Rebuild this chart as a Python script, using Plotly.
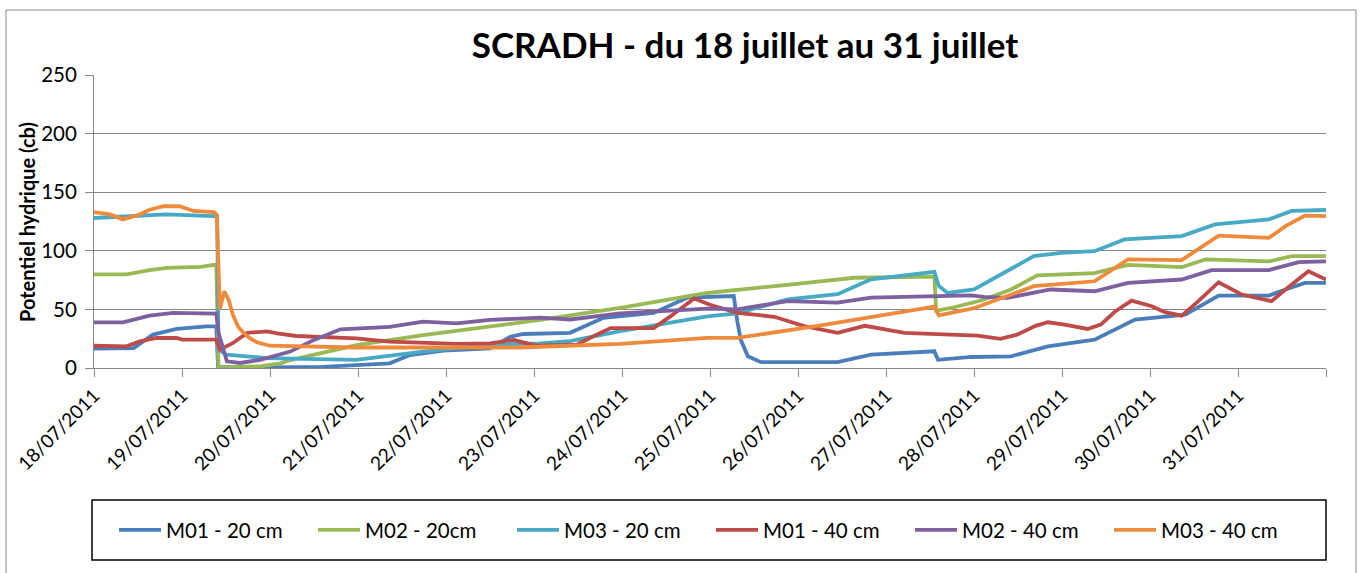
import pandas as pd
import plotly.graph_objects as go

START = pd.Timestamp("2011-07-18")

# x positions are days elapsed since 18/07/2011 00:00
m01_20_day = [0, 0.45, 0.67, 0.94, 1.28, 1.39, 1.41, 2.0, 2.6, 3.36, 3.59, 3.97, 4.5, 4.73, 4.88, 5.07,
              5.41, 5.79, 6.36, 6.74, 7.27, 7.31, 7.35, 7.43, 7.58, 8.45, 8.83, 9.55, 9.59, 9.97,
              10.42, 10.84, 11.37, 11.83, 12.4, 12.78, 13.35, 13.54, 13.76, 14.0]
m01_20_val = [16.5, 17, 28.5, 33.3, 35.6, 35.6, 1, 0.5, 1, 4, 11, 14.8, 16.8, 26.7, 29, 29.6,
              30, 42.8, 47, 60, 61.4, 40, 24, 10, 5, 5, 11.4, 14.3, 7, 9.4,
              10, 18.5, 24.2, 41.3, 45.6, 61.8, 61.8, 67, 72.6, 72.6]

m02_20_day = [0, 0.37, 0.63, 0.83, 1.21, 1.39, 1.415, 1.5, 1.9, 2.12, 2.23, 2.98, 3.74, 4.5, 5.07,
              5.98, 6.97, 7.88, 8.64, 9.55, 9.57, 9.73, 10.1, 10.42, 10.72, 11.37, 11.75, 12.36,
              12.63, 13.35, 13.61, 14.0]
m02_20_val = [79.8, 79.8, 83.5, 85.5, 86.3, 88.3, 0, 0.5, 1.5, 4, 6.8, 19.6, 28, 35, 41,
              51.4, 64, 71, 77, 78, 49, 51, 58, 67, 79, 81, 88, 86,
              92.6, 91, 95.4, 95.4]

m03_20_day = [0, 0.82, 1.36, 1.40, 1.415, 1.5, 1.96, 2.98, 3.74, 4.5, 5.07, 5.41, 5.98, 6.97, 7.31,
              7.88, 8.45, 8.83, 9.55, 9.6, 9.7, 10.0, 10.68, 10.99, 11.37, 11.71, 12.36, 12.74,
              13.35, 13.61, 14.0]
m03_20_val = [128, 131, 129.6, 129, 16, 11.4, 8.5, 7, 14, 20, 21, 23, 31.4, 44, 46.6,
              58.6, 63, 75.7, 82, 70, 64, 67, 95.4, 98.3, 99.7, 109.7, 112.5, 122.5,
              126.8, 134, 134.8]

m01_40_day = [0, 0.37, 0.52, 0.71, 0.94, 1.0, 1.39, 1.43, 1.58, 1.74, 1.97, 2.08, 2.30, 2.98, 3.36,
              3.74, 4.12, 4.5, 4.77, 5.03, 5.49, 5.7, 5.87, 6.36, 6.55, 6.82, 7.0, 7.31, 7.73, 8.07, 8.45,
              8.76, 9.21, 9.73, 10.04, 10.30, 10.49, 10.7, 10.84, 11.03, 11.29, 11.44, 11.6, 11.79, 12.02,
              12.17, 12.36, 12.55, 12.78, 13.04, 13.38, 13.54, 13.80, 14.0]
m01_40_val = [19, 18.5, 22.8, 25.6, 25.6, 24.2, 24.2, 15.7, 21.4, 30, 31.3, 29.6, 27.3, 25.3, 22.5,
              21.6, 20.5, 21, 24, 19, 20, 28, 34, 34, 44, 59.4, 54, 47, 43.7, 35.7, 30,
              36, 30, 28.5, 27.6, 24.8, 28.5, 36, 39, 37, 33.3, 37, 48, 57.5, 52.7,
              47.6, 44.7, 57, 73.2, 62.7, 57, 67, 82.6, 75.5]

m02_40_day = [0, 0.33, 0.63, 0.9, 1.39, 1.415, 1.51, 1.66, 1.89, 2.23, 2.5, 2.8, 3.36, 3.74, 4.12,
              4.5, 5.07, 5.41, 5.98, 6.97, 7.31, 7.88, 8.45, 8.83, 9.97, 10.11, 10.38, 10.87,
              11.37, 11.75, 12.36, 12.7, 13.35, 13.69, 14.0]
m02_40_val = [39, 39, 44.7, 47, 46.4, 30, 5.7, 4.3, 7, 14, 24, 33, 35, 39.5, 38,
              41, 43, 41.4, 46.6, 50.6, 50, 57, 55.7, 60, 62, 60.7, 59.8, 67,
              65.5, 72.6, 75.5, 83.5, 83.5, 90.3, 91]

m03_40_day = [0, 0.18, 0.33, 0.52, 0.63, 0.79, 0.97, 1.13, 1.36, 1.395, 1.43, 1.48, 1.53, 1.58, 1.64,
              1.70, 1.77, 1.85, 2.0, 2.27, 2.98, 4.84, 5.98, 6.97, 7.31, 8.26, 9.55, 9.6, 9.73, 10.0,
              10.68, 11.37, 11.75, 12.36, 12.78, 13.35, 13.54, 13.76, 14.0]
m03_40_val = [133, 131, 126.8, 131, 135, 138, 138, 134, 133, 131, 50, 65.5, 58, 45, 35,
              30, 25.5, 22, 19, 18.5, 17.5, 17.5, 20.6, 25.7, 25.7, 36.3, 52.3, 45, 47, 51,
              69.8, 74, 92.6, 92, 113, 111, 121, 130, 129.6]

series_names = ["M01 - 20 cm", "M02 - 20cm", "M03 - 20 cm", "M01 - 40 cm", "M02 - 40 cm", "M03 - 40 cm"]
series_days = [m01_20_day, m02_20_day, m03_20_day, m01_40_day, m02_40_day, m03_40_day]
series_vals = [m01_20_val, m02_20_val, m03_20_val, m01_40_val, m02_40_val, m03_40_val]
colors = ["#4A7EBB", "#98B954", "#46AAC5", "#BE4B48", "#7D60A0", "#EE8A3C"]

tick_days = list(range(15))
tick_labels = ["18/07/2011", "19/07/2011", "20/07/2011", "21/07/2011", "22/07/2011", "23/07/2011",
               "24/07/2011", "25/07/2011", "26/07/2011", "27/07/2011", "28/07/2011", "29/07/2011",
               "30/07/2011", "31/07/2011", ""]

y_ticks = [0, 50, 100, 150, 200, 250]

FONT = "Lato"

def to_time(days):
    return [START + pd.Timedelta(days=d) for d in days]

fig = go.Figure()
for name, d, v, c in zip(series_names, series_days, series_vals, colors):
    fig.add_trace(go.Scatter(x=to_time(d), y=v, name=name, mode="lines",
                             line=dict(color=c, width=3.8)))

# geometry of the plot area in pixels
W, H = 1362, 573
L, R, T, B = 94, 1326, 75, 368
pw, ph = R - L, B - T

def px_x(p):
    return (p - L) / pw

def px_y(p):
    return (B - p) / ph

grey = "#868686"

fig.update_layout(
    width=W, height=H,
    margin=dict(l=L, r=W - R, t=T, b=H - B),
    paper_bgcolor="white", plot_bgcolor="white",
    font=dict(family=FONT, color="black"),
    title=dict(text="<b>SCRADH - du 18 juillet au 31 juillet</b>", x=745 / W, xanchor="center",
               y=1 - 46 / H, yanchor="middle", font=dict(family=FONT, size=35, color="black")),
    showlegend=True,
    legend=dict(orientation="h", x=px_x(114), xanchor="left", y=px_y(530), yanchor="middle",
                font=dict(family=FONT, size=20.5, color="black"), entrywidth=142,
                entrywidthmode="pixels", bgcolor="rgba(0,0,0,0)", borderwidth=0,
                tracegroupgap=0, itemwidth=42),
    xaxis=dict(type="date", range=[START, START + pd.Timedelta(days=14)],
               tickvals=to_time(tick_days), ticktext=tick_labels, tickangle=-45,
               ticks="outside", ticklen=8, tickcolor=grey, tickwidth=1,
               showline=True, linecolor=grey, linewidth=1, showgrid=False, zeroline=False,
               tickfont=dict(family=FONT, size=19, color="black")),
    yaxis=dict(range=[0, 250], tickvals=y_ticks, ticks="outside", ticklen=8, tickcolor=grey,
               showline=True, linecolor=grey, linewidth=1, showgrid=True, gridcolor=grey,
               gridwidth=1, zeroline=False, ticklabelstandoff=4,
               tickfont=dict(family=FONT, size=20.5, color="black")),
    shapes=[
        dict(type="rect", xref="paper", yref="paper", x0=px_x(6), x1=px_x(1356), y0=px_y(590),
             y1=px_y(10), line=dict(color=grey, width=1), fillcolor="rgba(0,0,0,0)", layer="below"),
        dict(type="rect", xref="paper", yref="paper", x0=px_x(92), x1=px_x(1326), y0=px_y(560),
             y1=px_y(500), line=dict(color="black", width=1.5), fillcolor="rgba(0,0,0,0)"),
    ],
    annotations=[
        dict(text="<b>Potentiel hydrique (cb)</b>", xref="paper", yref="paper", x=px_x(27),
             y=px_y(222), textangle=-90, showarrow=False, xanchor="center", yanchor="middle",
             font=dict(family=FONT, size=20, color="black")),
    ],
)

fig.write_html("out.html", config={"displayModeBar": False},
               post_script="document.body.style.margin='0';")
